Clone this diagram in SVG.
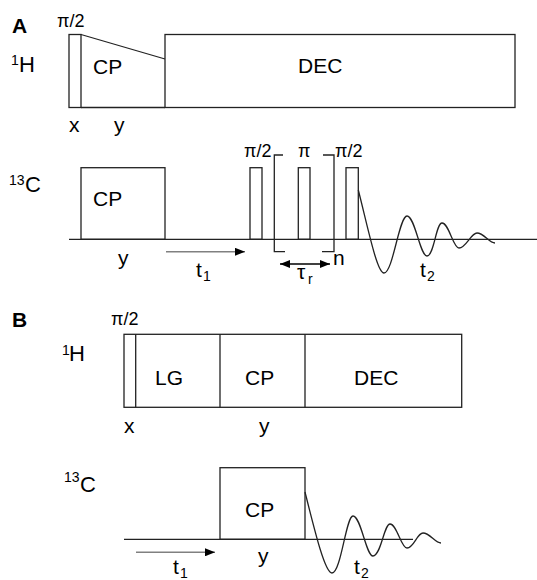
<svg xmlns="http://www.w3.org/2000/svg" width="537" height="580" viewBox="0 0 537 580">
<style>
.ln{fill:none;stroke:#222;stroke-width:1.3}
.bx{fill:#fff;stroke:#222;stroke-width:1.3}
.ar{fill:none;stroke:#808080;stroke-width:1.6}
.t{font-family:"Liberation Sans",Arial,sans-serif;fill:#000}
.big{font-size:22px}
.lab{font-size:21px}
.sup{font-size:14px}
.pi{font-size:18px}
.pnl{font-size:21px;font-weight:bold}
</style>
<defs>
<marker id="ah" viewBox="0 0 10 8" refX="10" refY="4" markerWidth="10" markerHeight="8" markerUnits="userSpaceOnUse" orient="auto-start-reverse">
<path d="M0,0 L10,4 L0,8 Z" fill="#000"/>
</marker>
</defs>
<rect width="537" height="580" fill="#fff"/>

<g id="panelA-label"><text class="t pnl" x="12" y="33">A</text></g>

<g id="A-1H">
<text class="t sup" x="11" y="65">1</text><text class="t big" x="19" y="72">H</text>
<text class="t pi" x="57" y="27">π/2</text>
<rect class="bx" x="69" y="34.5" width="12" height="73"/>
<path class="ln" d="M81,34.5 L165,59 M81,107.5 L165,107.5"/>
<rect class="bx" x="165" y="34.5" width="350" height="73"/>
<text class="t lab" x="93" y="74">CP</text>
<text class="t lab" x="298" y="73">DEC</text>
<text class="t lab" x="69" y="132">x</text>
<text class="t lab" x="114" y="132">y</text>
</g>

<g id="A-13C">
<text class="t sup" x="9" y="185">13</text><text class="t big" x="25" y="192">C</text>
<rect class="bx" x="81" y="167.7" width="84" height="71.6"/>
<text class="t lab" x="93" y="206">CP</text>
<text class="t lab" x="118" y="265">y</text>
<rect class="bx" x="250" y="167.7" width="12" height="71.6"/>
<rect class="bx" x="298.3" y="167.7" width="11.7" height="71.6"/>
<rect class="bx" x="346" y="167.7" width="12.3" height="71.6"/>
<text class="t pi" x="244" y="157">π/2</text>
<text class="t pi" x="298" y="157">π</text>
<text class="t pi" x="335" y="157">π/2</text>
<path class="ln" d="M283,155 L274.3,155 L274.3,251.7 L285,251.7 M323,155 L334,155 L334,251.7 L322,251.7"/>
<text class="t lab" x="333" y="265">n</text>
<text class="t lab" x="297" y="279">τ</text><text class="t sup" x="308" y="284">r</text>
<text class="t lab" x="196" y="277">t</text><text class="t sup" x="203" y="281">1</text>
<text class="t lab" x="420" y="277">t</text><text class="t sup" x="427" y="281">2</text>
</g>

<g id="panelB-label"><text class="t pnl" x="12" y="327">B</text></g>

<g id="B-1H">
<text class="t sup" x="62" y="355">1</text><text class="t big" x="69" y="361">H</text>
<text class="t pi" x="111" y="325">π/2</text>
<rect class="bx" x="124" y="334.3" width="337.7" height="73"/>
<path class="ln" d="M135.7,334.3 V407.3 M220,334.3 V407.3 M305,334.3 V407.3"/>
<text class="t lab" x="155" y="385">LG</text>
<text class="t lab" x="245" y="385">CP</text>
<text class="t lab" x="354" y="385">DEC</text>
<text class="t lab" x="124" y="433">x</text>
<text class="t lab" x="259" y="433">y</text>
</g>

<g id="B-13C">
<text class="t sup" x="64" y="482">13</text><text class="t big" x="80" y="492">C</text>
<rect class="bx" x="220" y="467.7" width="85" height="71.6"/>
<text class="t lab" x="245" y="517">CP</text>
<text class="t lab" x="258" y="563">y</text>
<text class="t lab" x="173" y="574">t</text><text class="t sup" x="180" y="578">1</text>
<text class="t lab" x="354" y="574">t</text><text class="t sup" x="361" y="578">2</text>
</g>

<g id="connectors">
<path class="ln" d="M69,239.3 H537"/>
<path class="ln" d="M124,539.3 H413"/>
<path class="ar" d="M166,251.8 H245" marker-end="url(#ah)"/>
<path class="ar" d="M280,264 H330" marker-start="url(#ah)" marker-end="url(#ah)" style="stroke:#000;stroke-width:1.4"/>
<path class="ar" d="M136,552.3 H215" marker-end="url(#ah)"/>
<path class="ln" d="M358.3,190 C368,228 377,273 384,273 C393,273 399,216 407,216 C415,216 420,256 427,256 C434,256 436,223 442,223 C449,223 453,248 459,248 C466,248 471,233 477,233 C484,233 489,243 495,243"/>
<path class="ln" d="M305,492 C315,532 325,573 332,573 C341,573 346,516 353,516 C361,516 366,556 373,556 C381,556 384,524 390,524 C397,524 401,548 407,548 C414,548 417,533 423,533 C430,533 435,543 441,543"/>
</g>
</svg>
